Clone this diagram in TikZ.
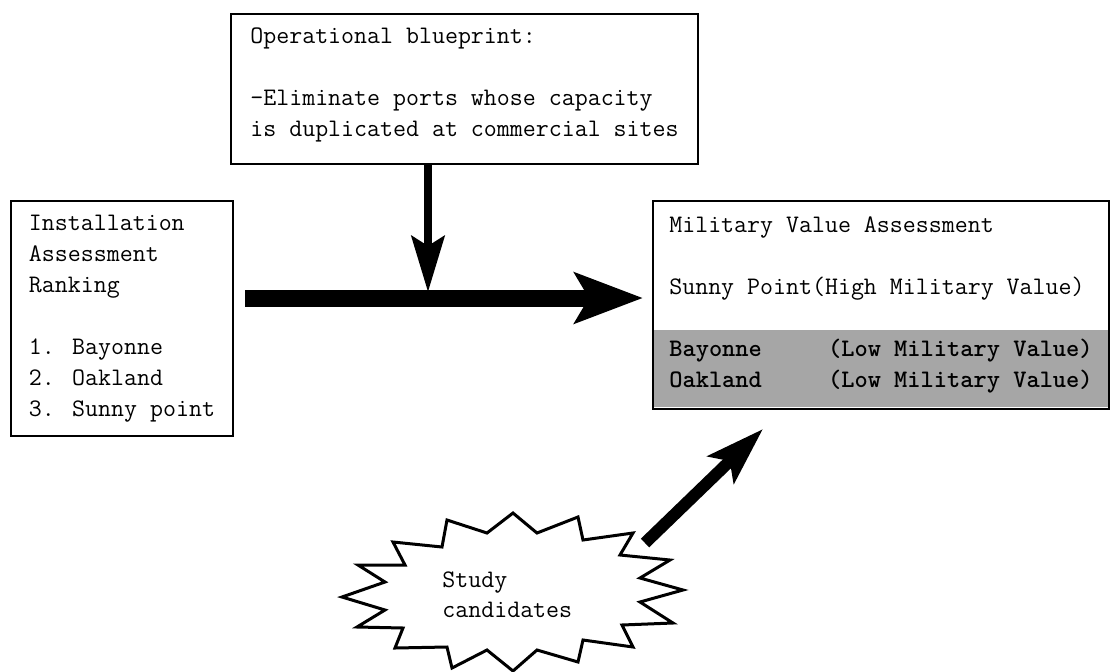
\documentclass[tikz,border=0pt]{standalone}
\usetikzlibrary{arrows.meta,backgrounds}

\begin{document}
\begin{tikzpicture}[x=0.5pt,y=-0.5pt]
 \tikzset{
  box/.style={draw, line width=1pt, align=left, anchor=north west, inner sep=0pt,
              font=\ttfamily\fontsize{12.6}{15.5}\selectfont},
  fat/.style={line width=8.5pt, -{Stealth[length=34pt, width=25pt, inset=7pt]}},
  slim/.style={line width=4pt, -{Stealth[length=28pt, width=16.5pt, inset=5pt]}},
  mid/.style={line width=6pt, -{Stealth[length=29pt, width=18.5pt, inset=6pt]}},
  burst/.style={draw, line width=1.5pt, line join=miter},
  screen/.style={fill=black!35}
 }
 \def\gap{\ \ \ \ \ }

 \useasboundingbox (0,0) rectangle (1110,671);

 \node [box, minimum width=233.5pt, minimum height=75pt, text depth=7pt] (blueprint) at (230,13)
  {Operational blueprint:\\[15.5pt]-Eliminate ports whose capacity\\is duplicated at commercial sites};
 \node [box, minimum width=111pt, minimum height=117.5pt] (ranking) at (10,200)
  {Installation\\Assessment\\Ranking\\[15.5pt]1. Bayonne\\2. Oakland\\3. Sunny point};
 \node [box, minimum width=228pt, minimum height=104pt] (value) at (652,200)
  {Military Value Assessment\\[15.5pt]Sunny Point(High Military Value)\\[15.5pt]%
   {\bfseries Bayonne\gap(Low Military Value)}\\{\bfseries Oakland\gap(Low Military Value)}};

 \begin{scope}[on background layer]
  \fill [screen] ([shift={(1pt,40pt)}]value.south west) rectangle ([shift={(-1pt,1.5pt)}]value.south east);
 \end{scope}

 % the star
 \draw [burst] (513,513) -- (537,533) -- (578,517) -- (583,540) -- (633,533) -- (620,555)
  -- (670,560) -- (640,578) -- (683,590) -- (640,602) -- (673,623) -- (622,625)
  -- (633,647) -- (583,640) -- (578,662) -- (537,650) -- (513,671) -- (487,650)
  -- (452,668) -- (447,647) -- (395,648) -- (403,628) -- (357,627) -- (385,610)
  -- (342,597) -- (385,582) -- (358,565) -- (405,565) -- (393,542) -- (442,547)
  -- (447,520) -- (487,533) -- cycle;
 \node [align=left, inner sep=0pt, anchor=west, font=\ttfamily\fontsize{12.6}{15}\selectfont] (study) at (442,595)
  {Study\\candidates};

 \coordinate (flow) at (0,298);
 \coordinate (join) at (428,292);
 \coordinate (burstout) at (645,543);

 \draw [fat, shorten <=5.5pt, shorten >=4.5pt] (ranking.east |- flow) -- (value.west |- flow);
 \draw [slim] (blueprint.south -| join) -- (join);
 \draw [mid] (burstout) -- ([shift={(55.5pt,-9.5pt)}]value.south west);
\end{tikzpicture}
\end{document}
